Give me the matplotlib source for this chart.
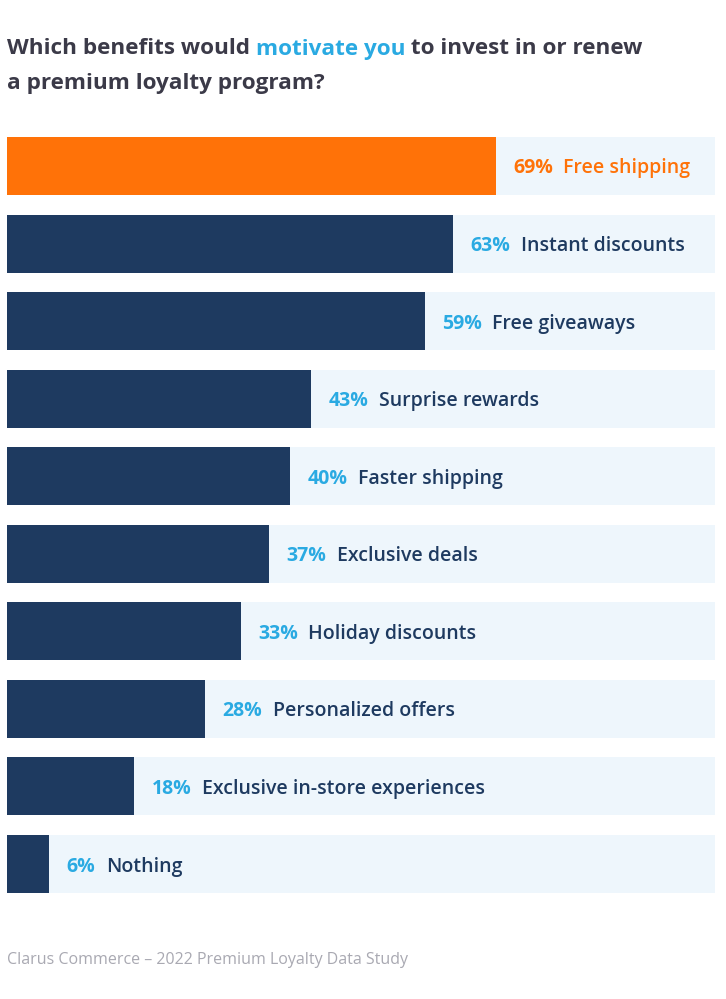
import matplotlib
matplotlib.use('Agg')
import matplotlib.pyplot as plt

# 데이터
categories = ['Free shipping', 'Instant discounts', 'Free giveaways', 'Surprise rewards',
              'Faster shipping', 'Exclusive deals', 'Holiday discounts', 'Personalized offers',
              'Exclusive in-store experiences', 'Nothing']
values = [69, 63, 59, 43, 40, 37, 33, 28, 18, 6]

navy = '#1E3A60'
orange = '#FF7208'
light_bg = '#EEF6FC'
sky = '#2AAAE2'
title_col = '#3B3A48'

plt.rcParams['font.family'] = ['Open Sans', 'DejaVu Sans']

fig = plt.figure(figsize=(7.26, 9.99), dpi=100)
ax = fig.add_axes([7 / 726, 1 - 902.8 / 999, 708 / 726, 775.6 / 999])

ypos = list(range(len(values)))
colors = [orange] + [navy] * (len(values) - 1)
ax.barh(ypos, [100] * len(values), height=0.747, color=light_bg, left=0)
ax.barh(ypos, values, height=0.747, color=colors)
ax.set_xlim(0, 100)
ax.set_ylim(len(values) - 0.5, -0.5)
ax.axis('off')

fig.canvas.draw()
renderer = fig.canvas.get_renderer()

# 막대 옆 라벨: 퍼센트 + 항목명
for i, (cat, v) in enumerate(zip(categories, values)):
    pct_col = orange if i == 0 else sky
    name_col = orange if i == 0 else navy
    t1 = ax.annotate(f'{v}%', xy=(v, i), xytext=(12.5, 0), textcoords='offset points',
                     va='center_baseline', ha='left', fontsize=14, fontweight='bold',
                     color=pct_col)
    bb = t1.get_window_extent(renderer)
    w_pt = bb.width * 72 / fig.dpi
    ax.annotate(cat, xy=(v, i), xytext=(12.5 + w_pt + 7.5, 0), textcoords='offset points',
                va='center_baseline', ha='left', fontsize=14, fontweight='semibold',
                color=name_col)

# 제목 (가운데 부분만 하늘색)
parts = [('Which benefits would ', title_col), ('motivate you', sky),
         (' to invest in or renew', title_col)]
x = 7 / 726
for txt, col in parts:
    t = fig.text(x, 1 - 49 / 999, txt, fontsize=16.2, fontweight='bold', color=col,
                 va='center', ha='left')
    bb = t.get_window_extent(renderer)
    x += bb.width / fig.bbox.width
fig.text(7 / 726, 1 - 83 / 999, 'a premium loyalty program?', fontsize=16.2,
         fontweight='bold', color=title_col, va='center', ha='left')

# 출처
fig.text(7 / 726, 1 - 960 / 999, 'Clarus Commerce \u2013 2022 Premium Loyalty Data Study',
         fontsize=11.5, color='#A9A9B2', va='center', ha='left')

fig.savefig('out.png', dpi=100)
